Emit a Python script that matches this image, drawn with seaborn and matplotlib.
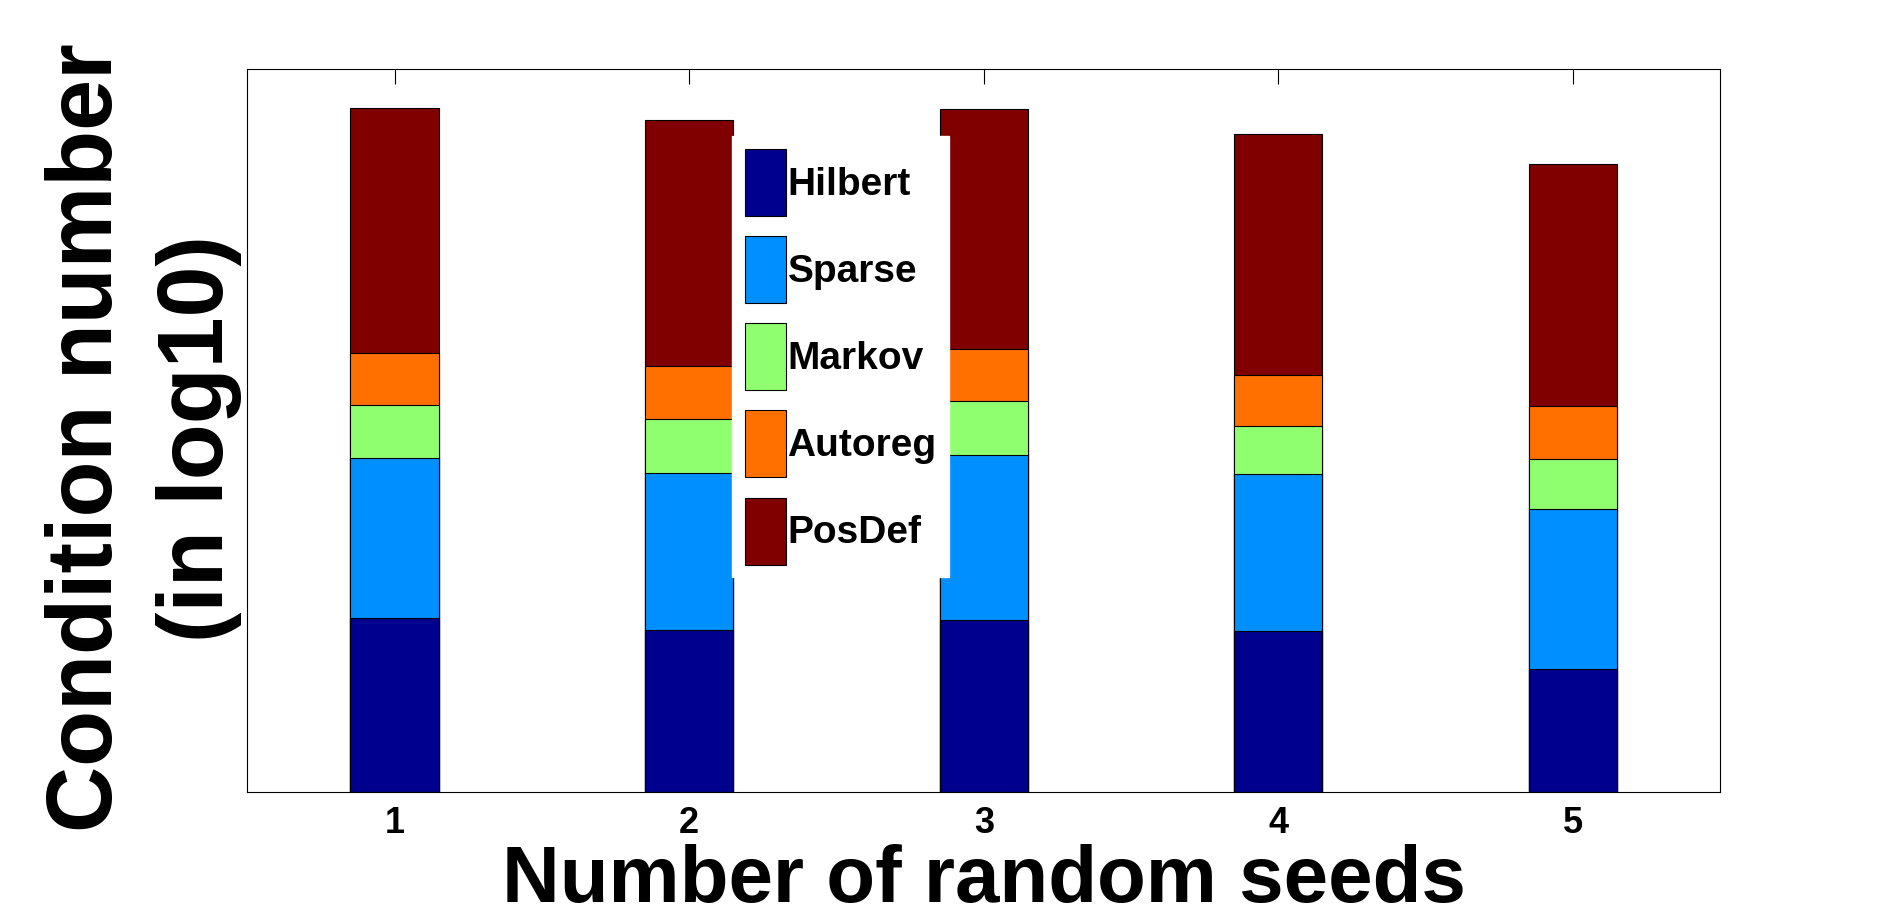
import numpy as np
import pandas as pd
import matplotlib
matplotlib.use("Agg")
import matplotlib.pyplot as plt
import seaborn as sns
from matplotlib.patches import Patch

# ---- data ----
seeds = ["1", "2", "3", "4", "5"]
series = ["Hilbert", "Sparse", "Markov", "Autoreg", "PosDef"]
hilbert = [16.8, 15.7, 16.6, 15.6, 11.9]
sparse = [15.5, 15.2, 16.0, 15.2, 15.5]
markov = [5.2, 5.2, 5.3, 4.6, 4.8]
autoreg = [5.0, 5.2, 5.0, 5.0, 5.2]
posdef = [23.8, 23.8, 23.3, 23.3, 23.4]
colors = ["#00008F", "#008FFF", "#8FFF70", "#FF7000", "#800000"]

sns.set_theme(style="white")
plt.rcParams["font.family"] = ["Liberation Sans", "DejaVu Sans"]
plt.rcParams["font.weight"] = "bold"
plt.rcParams["text.color"] = "black"
plt.rcParams["axes.labelcolor"] = "black"
plt.rcParams["xtick.color"] = "black"

fig = plt.figure(figsize=(19, 9.22), dpi=100)
ax = fig.add_axes([0.1302, 0.1414, 0.7751, 0.7833])

values = np.array([hilbert, sparse, markov, autoreg, posdef])
cum = np.cumsum(values, axis=0)
# draw cumulative bars from the tallest down so each segment shows its own colour
for i in range(len(series) - 1, -1, -1):
    df = pd.DataFrame({"seed": seeds, "value": cum[i]})
    sns.barplot(data=df, x="seed", y="value", order=seeds, color=colors[i],
                width=0.3, edgecolor="black", linewidth=0.8, saturation=1,
                errorbar=None, ax=ax)

ax.set_xlim(-0.5, 4.5)
ax.set_ylim(0, 70)
ax.set_yticks([])
for s in ax.spines.values():
    s.set_visible(True)
    s.set_color("black")
    s.set_linewidth(0.8)

ax.tick_params(axis="x", which="both", direction="in", top=True, bottom=False,
               length=10.5, width=0.8, color="black", labelsize=26, pad=10.5,
               labelbottom=True, labelcolor="black")
for lbl in ax.get_xticklabels():
    lbl.set_fontweight("bold")

ax.set_xlabel("Number of random seeds", fontsize=57.5, fontweight="bold",
              labelpad=2, color="black")
ax.set_ylabel("Condition number\n(in log10)", fontsize=66, fontweight="bold",
              linespacing=1.37, color="black")
ax.yaxis.set_label_coords(-0.0036, 0.4896)

handles = [Patch(facecolor=c, edgecolor="black", linewidth=0.8) for c in colors]
leg = fig.legend(handles, series, loc="upper left", bbox_to_anchor=(0.3854, 0.8522),
                 borderaxespad=0, frameon=True, fancybox=False, edgecolor="white",
                 facecolor="white", framealpha=1,
                 prop={"weight": "bold", "size": 28},
                 handlelength=1.04, handleheight=2.27, labelspacing=0.52,
                 handletextpad=0.05, borderpad=0.33)
for t in leg.get_texts():
    t.set_color("black")

fig.savefig("out.png", dpi=100)
